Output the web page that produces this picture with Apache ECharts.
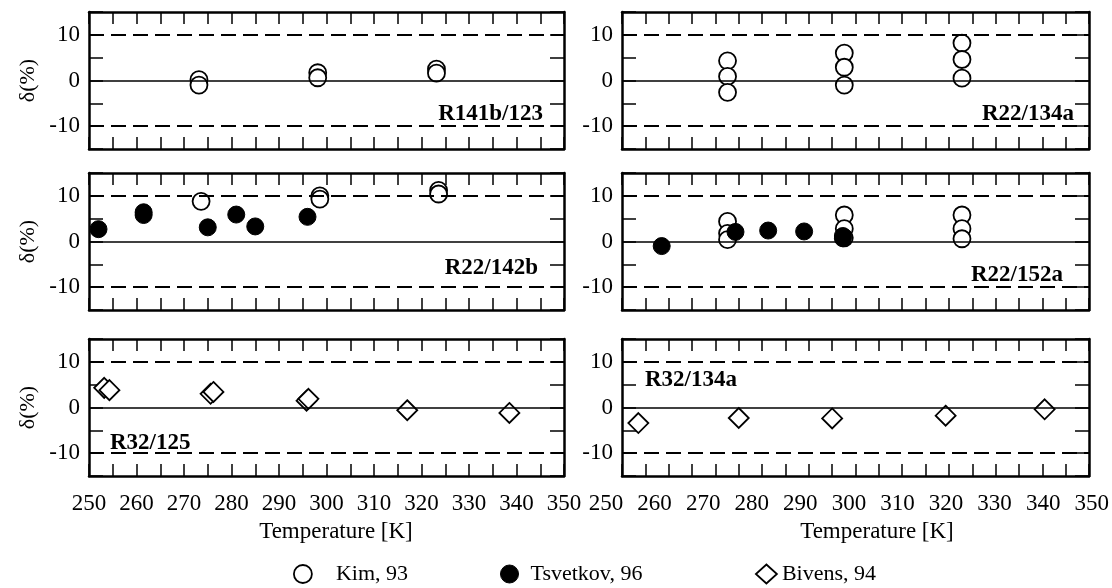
<!DOCTYPE html>
<html><head><meta charset="utf-8">
<script src="https://cdn.jsdelivr.net/npm/echarts/dist/echarts.min.js"></script>
<style>html,body{margin:0;padding:0;background:#fff}#c{width:1112px;height:588px}</style>
</head><body><div id="c"></div>
<script>
// ---- data (Temperature [K], delta %) ----
const panelNames = ['R141b/123', 'R22/134a', 'R22/142b', 'R22/152a', 'R32/125', 'R32/134a'];
const seriesNames = ['Kim, 93', 'Tsvetkov, 96', 'Bivens, 94'];
const yTickLabels = [-10, 0, 10];

const kim_R141b_123 = [[273.15, 0.2], [273.15, -1.0], [298.15, 1.7], [298.15, 0.6], [323.15, 2.5], [323.15, 1.6]];
const kim_R22_134a = [[272.6, 4.3], [272.6, 0.9], [272.6, -2.6], [297.6, 6.0], [297.6, 2.9], [297.6, -1.0], [322.8, 8.2], [322.8, 4.6], [322.8, 0.5]];
const kim_R22_142b = [[273.6, 8.8], [298.6, 10.0], [298.6, 9.3], [323.6, 11.2], [323.6, 10.4]];
const tsv_R22_142b = [[252.0, 2.7], [261.5, 6.4], [261.5, 5.8], [275.0, 3.1], [281.0, 5.9], [285.0, 3.3], [296.0, 5.4]];
const kim_R22_152a = [[272.6, 4.4], [272.6, 1.8], [272.6, 0.4], [297.6, 5.8], [297.6, 2.8], [297.6, 0.8], [322.8, 5.8], [322.8, 2.8], [322.8, 0.6]];
const tsv_R22_152a = [[258.5, -1.0], [274.3, 2.1], [281.3, 2.4], [289.0, 2.2], [297.3, 0.7], [297.3, 1.2]];
const biv_R32_125 = [[253.2, 4.3], [254.3, 3.8], [275.6, 3.0], [276.2, 3.4], [295.8, 1.5], [296.2, 1.9], [317.0, -0.6], [338.5, -1.2]];
const biv_R32_134a = [[253.5, -3.4], [275.0, -2.3], [295.0, -2.4], [319.3, -1.8], [340.5, -0.4]];

const panelData = [
  { kim: kim_R141b_123 },
  { kim: kim_R22_134a },
  { kim: kim_R22_142b, tsv: tsv_R22_142b },
  { kim: kim_R22_152a, tsv: tsv_R22_152a },
  { biv: biv_R32_125 },
  { biv: biv_R32_134a }
];

// ---- layout / style ----
const FONT = '"Liberation Serif", "Times New Roman", serif';
const colLeft = [89, 622], colWidth = [475, 467];
const rowTop = [12, 173, 339], rowHeight = 137;
const labelPos = [
  { x: 543, y: 114, align: 'right' },
  { x: 1074, y: 114, align: 'right' },
  { x: 538, y: 268, align: 'right' },
  { x: 1063, y: 275, align: 'right' },
  { x: 110, y: 443, align: 'left' },
  { x: 645, y: 380, align: 'left' }
];

const grid = [], xAxis = [], yAxis = [], series = [], graphic = [];
const frameLine = { show: true, onZero: false, lineStyle: { color: '#000', width: 2.5 } };

panelNames.forEach((name, i) => {
  const col = i % 2, row = Math.floor(i / 2);
  grid.push({ left: colLeft[col], top: rowTop[row], width: colWidth[col], height: rowHeight });
  const xBase = { gridIndex: i, type: 'value', min: 250, max: 350, interval: 5,
    axisLine: frameLine, axisTick: { show: true, inside: true, length: 12, lineStyle: { color: '#000', width: 1.5 } },
    axisLabel: { show: false }, splitLine: { show: false } };
  xAxis.push(Object.assign({}, xBase, { position: 'bottom' }));
  xAxis.push(Object.assign({}, xBase, { position: 'top' }));
  const yBase = { gridIndex: i, type: 'value', min: -15, max: 15, interval: 5,
    axisLine: frameLine, axisTick: { show: true, inside: true, length: 14, lineStyle: { color: '#000', width: 1.5 } },
    splitLine: { show: false } };
  yAxis.push(Object.assign({}, yBase, { position: 'left',
    axisLabel: { show: true, margin: 9, color: '#000', fontFamily: FONT, fontSize: 23,
      formatter: v => (yTickLabels.indexOf(v) >= 0 ? String(v) : '') },
    name: col === 0 ? 'δ(%)' : '', nameLocation: 'middle', nameGap: 50, nameRotate: 90,
    nameTextStyle: { color: '#000', fontFamily: FONT, fontSize: 22 } }));
  yAxis.push(Object.assign({}, yBase, { position: 'right', axisLabel: { show: false } }));

  // reference lines
  series.push({ type: 'scatter', data: [], xAxisIndex: 2 * i, yAxisIndex: 2 * i, silent: true, z: 1,
    markLine: { silent: true, symbol: 'none', label: { show: false }, animation: false,
      data: [
        { yAxis: 10, lineStyle: { color: '#000', width: 2, type: [15, 7] } },
        { yAxis: -10, lineStyle: { color: '#000', width: 2, type: [15, 7] } },
        { yAxis: 0, lineStyle: { color: '#000', width: 1.6, type: 'solid' } }
      ] } });
  const d = panelData[i];
  if (d.kim) series.push({ name: seriesNames[0], type: 'scatter', data: d.kim, xAxisIndex: 2 * i, yAxisIndex: 2 * i,
    symbol: 'circle', symbolSize: 17, z: 3,
    itemStyle: { color: '#fff', borderColor: '#000', borderWidth: 1.8, opacity: 1 } });
  if (d.tsv) series.push({ name: seriesNames[1], type: 'scatter', data: d.tsv, xAxisIndex: 2 * i, yAxisIndex: 2 * i,
    symbol: 'circle', symbolSize: 17, z: 4,
    itemStyle: { color: '#000', borderColor: '#000', borderWidth: 1, opacity: 1 } });
  if (d.biv) series.push({ name: seriesNames[2], type: 'scatter', data: d.biv, xAxisIndex: 2 * i, yAxisIndex: 2 * i,
    symbol: 'diamond', symbolSize: 20, z: 3,
    itemStyle: { color: '#fff', borderColor: '#000', borderWidth: 1.8, opacity: 1 } });

  const lp = labelPos[i];
  graphic.push({ type: 'text', x: lp.x, y: lp.y, z: 10,
    style: { text: name, font: 'bold 23px ' + FONT, fill: '#000', textAlign: lp.align, textVerticalAlign: 'middle' } });
});

// label-only temperature axes under the bottom row
const labelAxes = [{ left: 89, width: 475 }, { left: 606, width: 489 }];
labelAxes.forEach((la, k) => {
  const gi = 6 + k;
  grid.push({ left: la.left, width: la.width, top: 491, height: 1 });
  xAxis.push({ gridIndex: gi, type: 'value', min: 250, max: 350, interval: 10, position: 'bottom',
    axisLine: { show: false, onZero: false }, axisTick: { show: false }, splitLine: { show: false },
    axisLabel: { show: true, margin: 0, color: '#000', fontFamily: FONT, fontSize: 23 } });
  yAxis.push({ gridIndex: gi, type: 'value', show: false, min: 0, max: 1 });
});

graphic.push({ type: 'text', x: 336, y: 532, style: { text: 'Temperature [K]', font: '23px ' + FONT, fill: '#000', textAlign: 'center', textVerticalAlign: 'middle' } });
graphic.push({ type: 'text', x: 877, y: 532, style: { text: 'Temperature [K]', font: '23px ' + FONT, fill: '#000', textAlign: 'center', textVerticalAlign: 'middle' } });

const legTxt = { color: '#000', fontFamily: FONT, fontSize: 22 };
const legend = [
  { left: 288, top: 558, itemWidth: 18, itemHeight: 18, selectedMode: false,
    data: [{ name: seriesNames[0], icon: 'circle', itemStyle: { color: '#fff', borderColor: '#000', borderWidth: 1.8 } }],
    textStyle: Object.assign({ padding: [0, 0, 0, 19] }, legTxt) },
  { left: 495, top: 558, itemWidth: 18, itemHeight: 18, selectedMode: false,
    data: [{ name: seriesNames[1], icon: 'circle', itemStyle: { color: '#000', borderColor: '#000', borderWidth: 1 } }],
    textStyle: Object.assign({ padding: [0, 0, 0, 7] }, legTxt) },
  { left: 750, top: 558, itemWidth: 21, itemHeight: 19, selectedMode: false,
    data: [{ name: seriesNames[2], icon: 'diamond', itemStyle: { color: '#fff', borderColor: '#000', borderWidth: 1.8 } }],
    textStyle: Object.assign({ padding: [0, 0, 0, 0] }, legTxt) }
];

const chart = echarts.init(document.getElementById('c'), null, { renderer: 'canvas' });
chart.setOption({ animation: false, backgroundColor: '#fff', grid, xAxis, yAxis, series, graphic, legend });
</script></body></html>
